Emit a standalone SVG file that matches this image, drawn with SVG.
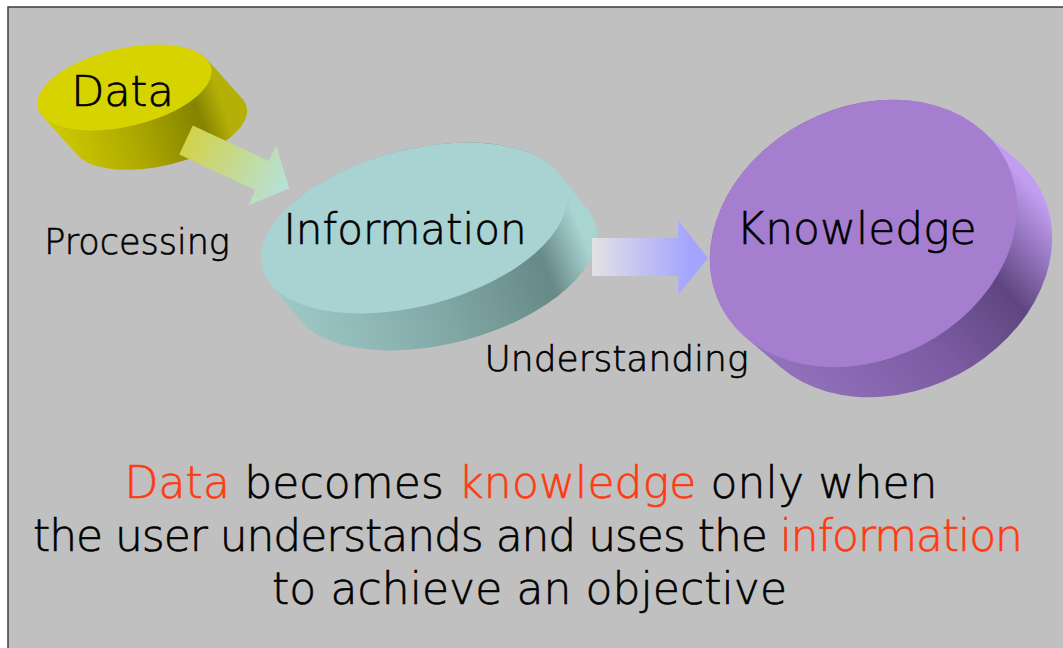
<svg xmlns="http://www.w3.org/2000/svg" width="1063" height="648" viewBox="0 0 1063 648">
  <style>
    text { font-family: "DejaVu Sans", "Liberation Sans", sans-serif; font-weight: 200; fill: #000; stroke: #000; stroke-width: 0.6; }
    .lbl { text-anchor: middle; }
    .red { fill: #ff3a10; stroke: #ff3a10; }
  </style>
  <defs>
    <linearGradient id="gDataSide" gradientUnits="userSpaceOnUse" x1="42" y1="116" x2="207" y2="59">
      <stop offset="0" stop-color="#d0cc00"/>
      <stop offset="0.45" stop-color="#aeaa00"/>
      <stop offset="0.85" stop-color="#858300"/>
      <stop offset="1" stop-color="#b4b008"/>
    </linearGradient>
    <linearGradient id="gInfoSide" gradientUnits="userSpaceOnUse" x1="270" y1="284" x2="558" y2="172">
      <stop offset="0" stop-color="#9ec9c7"/>
      <stop offset="0.5" stop-color="#80a7a5"/>
      <stop offset="0.85" stop-color="#678987"/>
      <stop offset="1" stop-color="#a8d4d2"/>
    </linearGradient>
    <linearGradient id="gKnowSide" gradientUnits="userSpaceOnUse" x1="746" y1="337" x2="981" y2="130">
      <stop offset="0" stop-color="#9272bc"/>
      <stop offset="0.45" stop-color="#7a5aa0"/>
      <stop offset="0.72" stop-color="#5e4580"/>
      <stop offset="1" stop-color="#c29ef2"/>
    </linearGradient>
    <linearGradient id="gArrow1" gradientUnits="userSpaceOnUse" x1="0" y1="0" x2="114" y2="0">
      <stop offset="0" stop-color="#d2d24a"/>
      <stop offset="1" stop-color="#b6e2de"/>
    </linearGradient>
    <linearGradient id="gArrow2" gradientUnits="userSpaceOnUse" x1="592" y1="0" x2="690" y2="0">
      <stop offset="0" stop-color="#e2e2e4"/>
      <stop offset="1" stop-color="#a4a4ff"/>
    </linearGradient>
  </defs>

  <rect x="0" y="0" width="1063" height="648" fill="#ffffff"/>
  <rect x="8" y="7" width="1070" height="660" fill="#c0c0c0" stroke="#3c3c3c" stroke-width="1.5"/>

  <g id="node-data">
    <path d="M206.7,59.1 L242.7,99.1 A89,39 -13 0 1 78.3,155.9 L42.3,115.9 A89,39 -13 0 1 206.7,59.1 Z" fill="url(#gDataSide)"/>
    <ellipse cx="124.5" cy="87.5" rx="89" ry="39" transform="rotate(-13 124.5 87.5)" fill="#d6d300"/>
    <text class="lbl" x="122.5" y="106" font-size="43">Data</text>
  </g>

  <g id="connectors">
    <polygon points="0,-16 84,-16 84,-33 114,0 84,33 84,16 0,16" transform="translate(186,140) rotate(25)" fill="url(#gArrow1)"/>
    <text class="lbl" x="137" y="254" font-size="35">Processing</text>
  </g>

  <g id="node-information">
    <path d="M557.8,172.4 L587.8,209.4 A157,78 -14.8 0 1 300.2,320.6 L270.2,283.6 A157,78 -14.8 0 1 557.8,172.4 Z" fill="url(#gInfoSide)"/>
    <ellipse cx="414" cy="228" rx="157" ry="78" transform="rotate(-14.8 414 228)" fill="#a9d3d2"/>
    <text class="lbl" x="405" y="244" font-size="42">Information</text>
  </g>

  <g id="connectors-2">
    <polygon points="592,238 678,238 678,220 708,258 678,295 678,276 592,276" fill="url(#gArrow2)"/>
    <text class="lbl" x="616.5" y="371" font-size="36">Understanding</text>
  </g>

  <g id="node-knowledge">
    <path d="M981.4,129.7 L1016.4,159.7 A160,126 -27 0 1 780.6,367.3 L745.6,337.3 A160,126 -27 0 1 981.4,129.7 Z" fill="url(#gKnowSide)"/>
    <ellipse cx="863.5" cy="233.5" rx="160" ry="126" transform="rotate(-27 863.5 233.5)" fill="#a67ed0"/>
    <text class="lbl" x="856.5" y="244" font-size="44">Knowledge</text>
  </g>

  <g id="caption" font-size="44">
    <text x="531" y="498" text-anchor="middle" textLength="813" lengthAdjust="spacing"><tspan class="red">Data</tspan> becomes <tspan class="red">knowledge</tspan> only when</text>
    <text x="528" y="551" text-anchor="middle" textLength="990" lengthAdjust="spacing">the user understands and uses the <tspan class="red">information</tspan></text>
    <text x="529.5" y="604" text-anchor="middle" textLength="515" lengthAdjust="spacing">to achieve an objective</text>
  </g>
</svg>
